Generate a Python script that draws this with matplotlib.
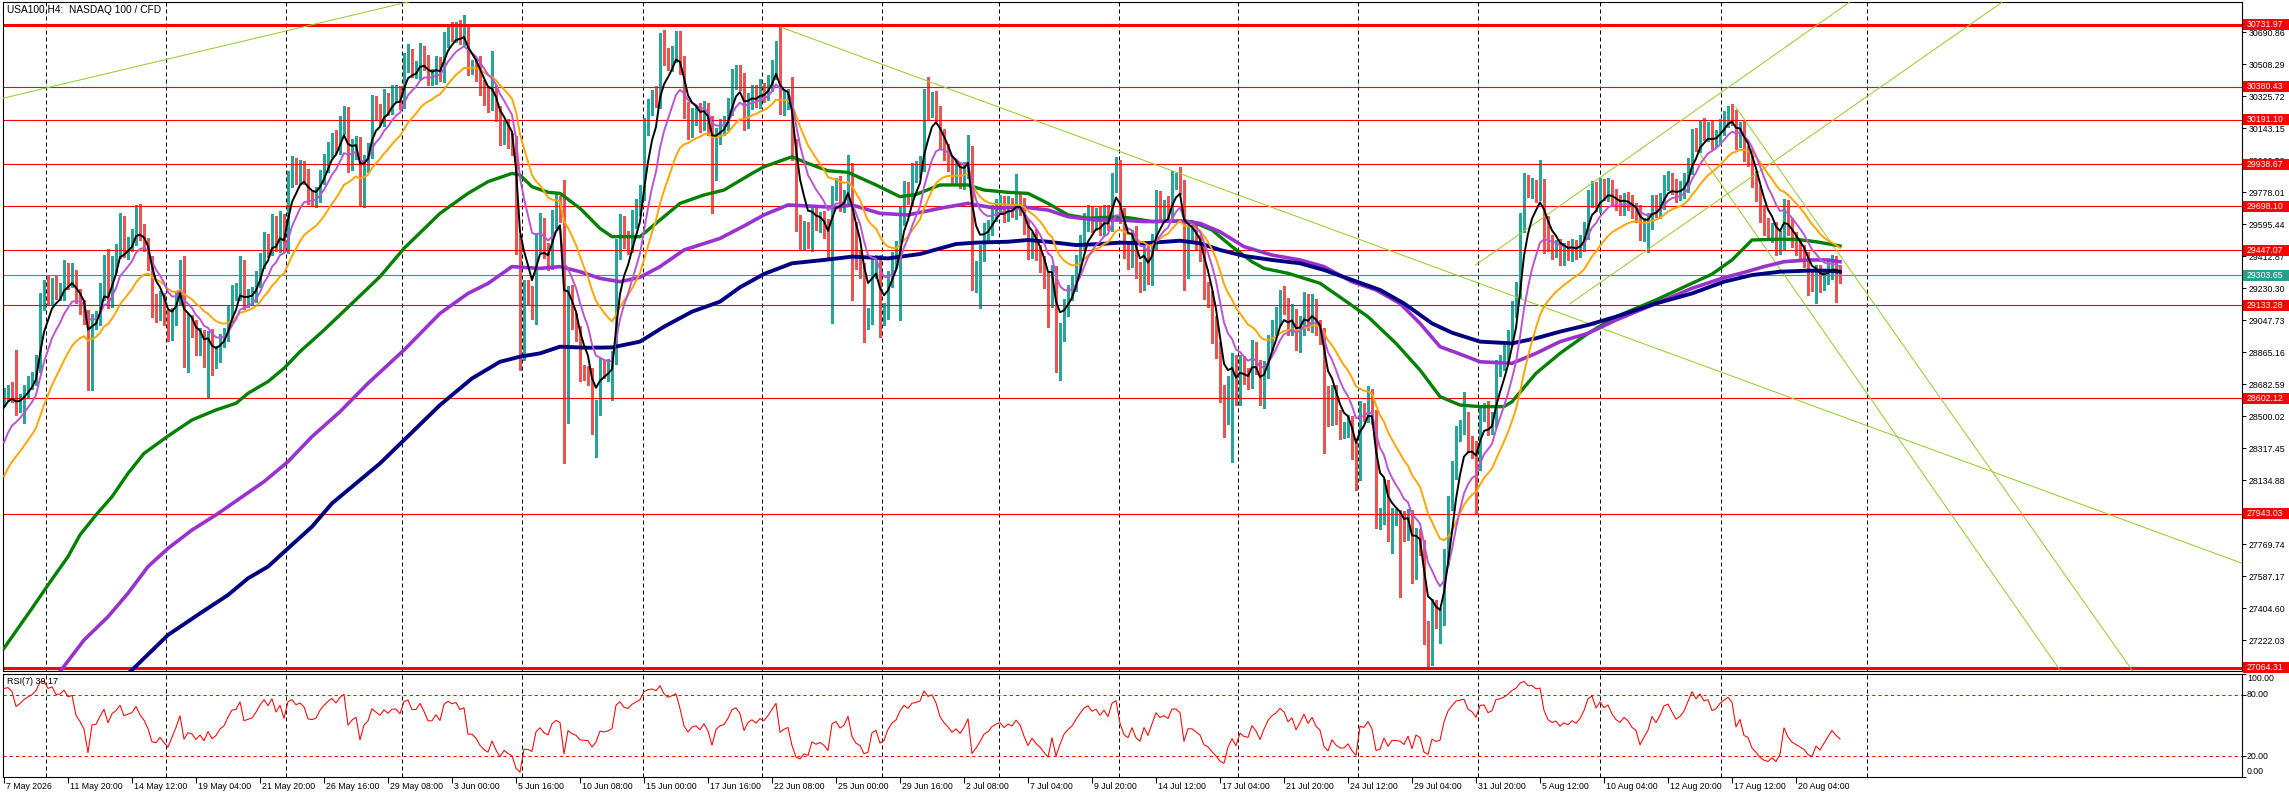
import numpy as np
import matplotlib
matplotlib.use('Agg')
import matplotlib.pyplot as plt
from matplotlib.patches import Rectangle
from matplotlib.transforms import blended_transform_factory

plt.rcParams['font.family'] = ['Liberation Sans', 'DejaVu Sans']

# ---- data (H4 bars, index 0 = 7 May 2026) ----
first_open = 28600
closes = [
    28620, 28649, 28630, 28554, 28592, 28650, 28687, 28725, 28801, 29144,
    29229, 29182, 29248, 29201, 29210, 29315, 29277, 29305, 29182, 29134,
    29068, 28668, 29049, 29060, 29210, 29372, 29163, 29372, 29448, 29600,
    29448, 29486, 29515, 29648, 29553, 29486, 29372, 29125, 29106, 29163,
    29068, 28973, 29068, 29182, 29353, 28935, 29039, 29011, 28896, 28953,
    28839, 28953, 28820, 28858, 28935, 28973, 29087, 29201, 29210, 29353,
    29163, 29182, 29201, 29277, 29391, 29505, 29458, 29600, 29486, 29610,
    29477, 29857, 29924, 29867, 29914, 29876, 29752, 29743, 29762, 29867,
    29943, 30019, 30076, 30047, 30152, 30218, 29952, 30019, 30057, 29733,
    29943, 30019, 30285, 30237, 30199, 30304, 30266, 30342, 30342, 30304,
    30513, 30551, 30475, 30475, 30570, 30513, 30437, 30437, 30494, 30456,
    30646, 30700, 30684, 30703, 30665, 30684, 30494, 30494, 30456, 30380,
    30323, 30285, 30342, 30228, 30095, 30133, 30076, 30038, 29486, 28839,
    29219, 29200, 29105, 29486, 29581, 29448, 29391, 29618, 29695, 29657,
    28478, 29200, 29048, 28972, 28763, 28744, 28725, 28458, 28554, 28782,
    28763, 28782, 28820, 29448, 29600, 29505, 29486, 29619, 29695, 29771,
    30152, 30266, 30323, 30304, 30646, 30551, 30513, 30570, 30646, 30494,
    30247, 30133, 30209, 30228, 30171, 30247, 30152, 29885, 30095, 30152,
    30171, 30266, 30418, 30456, 30399, 30190, 30304, 30342, 30304, 30361,
    30342, 30399, 30475, 30570, 30266, 30304, 30323, 30019, 29600, 29505,
    29562, 29505, 29657, 29600, 29619, 29562, 29448, 29771, 29810, 29714,
    29752, 29885, 29562, 29391, 29334, 29048, 29067, 29334, 29372, 29067,
    29105, 29276, 29391, 29448, 29638, 29790, 29752, 29885, 29904, 29942,
    30304, 30247, 30304, 30228, 30076, 30000, 29942, 29867, 29905, 29848,
    29905, 30000, 29258, 29334, 29429, 29543, 29581, 29657, 29695, 29714,
    29657, 29695, 29676, 29733, 29695, 29581, 29448, 29505, 29429, 29372,
    29277, 29162, 29315, 28820, 28972, 29124, 29200, 29258, 29372, 29486,
    29600, 29657, 29600, 29638, 29581, 29657, 29600, 29829, 29890, 29640,
    29448, 29390, 29524, 29334, 29258, 29448, 29296, 29486, 29733, 29657,
    29695, 29657, 29847, 29847, 29810, 29334, 29543, 29543, 29486, 29429,
    29220, 29162, 29029, 28877, 28630, 28496, 28686, 28801, 28611, 28801,
    28725, 28706, 28877, 28782, 28611, 28763, 28915, 29010, 29067, 29162,
    29124, 29010, 29067, 28915, 29010, 29144, 29030, 29124, 29010, 28953,
    28630, 28496, 28630, 28496, 28420, 28420, 28458, 28306, 28173, 28535,
    28516, 28611, 28496, 27907, 27926, 28098, 27831, 27926, 27926, 27907,
    27831, 27926, 27622, 27812, 27755, 27279, 27165, 27412, 27336, 27355,
    27697, 28002, 28192, 28401, 28439, 28477, 28344, 28306, 28230, 28515,
    28535, 28440, 28480, 28780, 28801, 28858, 28953, 29105, 29220, 29600,
    29838, 29790, 29800, 29771, 29810, 29600, 29486, 29448, 29467, 29410,
    29448, 29429, 29467, 29448, 29486, 29562, 29733, 29790, 29714, 29810,
    29771, 29810, 29752, 29714, 29695, 29733, 29714, 29676, 29657, 29543,
    29581, 29619, 29714, 29676, 29733, 29829, 29848, 29810, 29771, 29790,
    29829, 29924, 30095, 30057, 30152, 30114, 30133, 30076, 30095, 30152,
    30190, 30228, 30209, 30076, 30133, 30000, 29980, 29848, 29771, 29657,
    29581, 29543, 29562, 29467, 29505, 29695, 29581, 29505, 29467, 29429,
    29390, 29296, 29258, 29315, 29258, 29296, 29334, 29372, 29334, 29304,
]
wick_up = [
    40, 30, 45, 250, 35, 30, 40, 25, 50, 60, 45, 70, 40, 60, 50, 76, 60, 70, 30, 45,
    30, 40, 35, 40, 50, 45, 80, 40, 35, 60, 40, 35, 50, 57, 60, 45, 30, 40, 70, 50,
    40, 35, 50, 30, 40, 60, 45, 40, 35, 50, 40, 30, 45, 40, 35, 30, 40, 45, 50, 60,
    40, 45, 35, 50, 40, 45, 35, 55, 40, 60, 45, 40, 60, 50, 45, 40, 35, 40, 45, 40,
    50, 45, 40, 55, 60, 50, 45, 60, 40, 35, 45, 40, 50, 40, 45, 60, 40, 50, 45, 40,
    60, 70, 45, 50, 60, 40, 50, 45, 60, 55, 45, 40, 50, 45, 60, 105, 50, 40, 45, 100,
    40, 50, 240, 45, 40, 50, 60, 40, 60, 50, 60, 55, 40, 60, 80, 50, 40, 60, 70, 60,
    190, 45, 50, 40, 45, 30, 40, 50, 40, 50, 40, 45, 50, 60, 55, 40, 50, 60, 45, 50,
    50, 45, 40, 60, 40, 60, 50, 40, 50, 50, 60, 45, 50, 40, 60, 50, 40, 60, 50, 45,
    40, 50, 60, 50, 45, 60, 40, 50, 45, 60, 40, 50, 60, 70, 150, 50, 45, 110, 60, 50,
    50, 45, 40, 50, 45, 50, 60, 40, 50, 60, 40, 105, 60, 45, 50, 40, 50, 60, 45, 50,
    40, 50, 45, 50, 60, 50, 45, 60, 50, 40, 60, 130, 45, 50, 40, 60, 50, 45, 50, 40,
    45, 105, 40, 50, 45, 60, 40, 50, 45, 50, 40, 60, 50, 150, 45, 50, 40, 45, 60, 50,
    40, 50, 45, 40, 60, 45, 50, 40, 50, 45, 60, 50, 40, 50, 60, 45, 50, 60, 90, 70,
    45, 50, 40, 60, 45, 50, 40, 55, 60, 50, 40, 60, 50, 40, 75, 40, 50, 45, 60, 50,
    40, 45, 50, 40, 45, 50, 40, 60, 50, 45, 40, 50, 60, 45, 40, 50, 45, 40, 55, 60,
    80, 50, 70, 45, 60, 66, 50, 70, 45, 40, 50, 40, 45, 50, 40, 45, 50, 40, 45, 50,
    40, 60, 45, 40, 50, 45, 40, 50, 45, 40, 50, 45, 40, 50, 45, 40, 50, 45, 40, 50,
    45, 40, 50, 45, 40, 160, 45, 40, 50, 45, 40, 50, 45, 40, 50, 45, 40, 50, 45, 60,
    50, 40, 60, 50, 150, 45, 40, 50, 40, 45, 40, 50, 45, 40, 50, 45, 60, 50, 45, 50,
    45, 50, 40, 45, 50, 40, 45, 50, 40, 45, 50, 40, 45, 50, 40, 45, 50, 40, 45, 50,
    60, 50, 45, 50, 40, 50, 45, 50, 40, 45, 50, 40, 55, 40, 45, 50, 40, 45, 50, 40,
    45, 50, 40, 45, 50, 45, 40, 50, 45, 40, 50, 45, 40, 50, 45, 40, 60, 45, 40, 30,
]
wick_dn = [
    40, 35, 50, 45, 30, 134, 40, 35, 45, 50, 40, 45, 50, 35, 40, 45, 50, 40, 35, 50,
    45, 20, 20, 50, 40, 50, 45, 40, 50, 45, 40, 50, 45, 40, 50, 45, 40, 60, 70, 55,
    50, 45, 40, 50, 45, 153, 181, 60, 50, 45, 60, 238, 85, 47, 50, 40, 45, 50, 40, 45,
    50, 40, 45, 50, 40, 45, 50, 40, 45, 50, 40, 45, 50, 40, 45, 50, 40, 45, 50, 40,
    45, 50, 40, 45, 50, 40, 60, 45, 50, 30, 40, 50, 45, 50, 40, 45, 50, 40, 45, 50,
    45, 50, 40, 45, 50, 40, 45, 50, 40, 45, 50, 40, 45, 50, 40, 45, 50, 40, 45, 50,
    45, 50, 40, 45, 50, 40, 45, 50, 60, 76, 20, 60, 50, 80, 50, 45, 60, 50, 45, 50,
    248, 20, 50, 45, 60, 40, 50, 60, 190, 50, 45, 60, 190, 20, 50, 45, 60, 50, 45, 50,
    40, 45, 50, 40, 45, 50, 40, 45, 50, 40, 45, 50, 40, 45, 50, 40, 45, 228, 40, 45,
    50, 40, 45, 50, 40, 60, 45, 50, 40, 45, 50, 40, 45, 50, 40, 45, 50, 60, 45, 50,
    50, 45, 60, 40, 50, 45, 60, 419, 40, 45, 50, 40, 400, 50, 45, 123, 50, 40, 45, 114,
    45, 50, 40, 45, 400, 50, 40, 45, 50, 40, 45, 50, 40, 45, 50, 40, 45, 50, 40, 45,
    50, 45, 38, 50, 219, 45, 40, 50, 45, 40, 50, 45, 40, 50, 45, 40, 50, 45, 40, 50,
    45, 152, 40, 67, 114, 45, 50, 40, 45, 50, 40, 45, 50, 40, 45, 50, 40, 45, 50, 40,
    45, 50, 40, 45, 50, 40, 45, 50, 40, 45, 50, 40, 45, 50, 40, 114, 45, 50, 40, 45,
    50, 40, 114, 45, 50, 114, 40, 446, 50, 45, 40, 50, 45, 40, 50, 67, 45, 40, 50, 45,
    40, 50, 45, 40, 50, 45, 40, 50, 45, 40, 342, 50, 45, 40, 50, 45, 40, 50, 95, 40,
    45, 50, 40, 45, 50, 40, 45, 114, 50, 437, 45, 40, 76, 50, 45, 80, 95, 86, 45, 133,
    50, 45, 40, 50, 45, 40, 50, 45, 285, 40, 45, 50, 40, 45, 50, 40, 45, 50, 40, 45,
    50, 40, 45, 50, 40, 171, 45, 50, 40, 45, 50, 40, 45, 50, 40, 45, 50, 40, 45, 50,
    40, 45, 50, 40, 45, 50, 40, 45, 50, 40, 45, 143, 50, 40, 45, 50, 40, 45, 50, 40,
    45, 50, 40, 45, 50, 40, 45, 50, 40, 45, 50, 40, 45, 50, 40, 45, 50, 40, 45, 50,
    45, 40, 50, 45, 40, 50, 45, 40, 50, 45, 40, 105, 45, 115, 50, 40, 45, 50, 181, 45,
]

# starting values of the short moving averages at the left edge
ma_seed = {'black': 28515, 'violet': 28290, 'orange': 28110}

# long moving averages, read at sample bars
green_bars = [0, 7, 11, 16, 19, 23, 27, 31, 35, 41, 47, 53, 58, 61, 66, 70, 74, 80, 87,
              94, 100, 109, 116, 121, 127, 129, 132, 136, 139, 144, 149, 152, 159, 163,
              169, 175, 180, 187, 190, 197, 201, 206, 211, 218, 224, 228, 234, 241, 245,
              251, 256, 261, 266, 271, 279, 282, 287, 294, 297, 302, 307, 312, 315, 321,
              329, 335, 341, 348, 354, 359, 364, 369, 375, 377, 383, 389, 396, 403, 413,
              422, 427, 432, 437, 443, 448, 453, 459]
green_vals = [27175, 27403, 27536, 27698, 27822, 27936, 28040, 28173, 28287, 28386, 28478,
              28535, 28573, 28630, 28697, 28773, 28868, 28991, 29143, 29296, 29457, 29657,
              29771, 29838, 29885, 29876, 29809, 29777, 29771, 29686, 29571, 29524, 29524,
              29600, 29714, 29762, 29790, 29885, 29923, 29980, 29942, 29900, 29891, 29819,
              29752, 29765, 29819, 29819, 29790, 29777, 29771, 29714, 29648, 29629, 29638,
              29629, 29610, 29613, 29610, 29562, 29467, 29381, 29343, 29315, 29258, 29163,
              29067, 28915, 28763, 28611, 28563, 28554, 28554, 28582, 28744, 28858, 28972,
              29067, 29163, 29258, 29310, 29391, 29505, 29509, 29509, 29495, 29471]
purple_bars = [10, 14, 20, 26, 31, 36, 41, 47, 53, 59, 65, 71, 77, 84, 91, 100, 109, 116,
               121, 127, 134, 139, 144, 149, 154, 159, 164, 170, 179, 185, 190, 196, 201,
               208, 212, 219, 226, 234, 241, 248, 254, 261, 266, 273, 279, 285, 294, 299,
               304, 310, 317, 324, 330, 337, 343, 349, 354, 359, 364, 369, 377, 383, 389,
               396, 403, 413, 422, 430, 435, 440, 445, 451, 456, 459]
purple_vals = [26925, 27042, 27222, 27355, 27489, 27641, 27745, 27850, 27936, 28031, 28126,
               28240, 28383, 28525, 28687, 28877, 29086, 29200, 29257, 29353, 29343, 29353,
               29324, 29286, 29267, 29292, 29353, 29448, 29514, 29585, 29648, 29705, 29699,
               29691, 29705, 29657, 29648, 29686, 29714, 29686, 29695, 29676, 29638, 29619,
               29619, 29610, 29613, 29600, 29552, 29467, 29419, 29391, 29353, 29267, 29220,
               29143, 29029, 28896, 28854, 28810, 28801, 28858, 28925, 28972, 29048, 29143,
               29229, 29290, 29320, 29353, 29381, 29391, 29391, 29381]
navy_bars = [29, 32, 41, 49, 56, 61, 66, 71, 77, 82, 89, 94, 100, 109, 117, 124, 129, 134,
             139, 146, 152, 159, 165, 172, 179, 184, 190, 197, 205, 212, 221, 229, 238, 243,
             251, 256, 261, 268, 274, 279, 285, 294, 299, 304, 310, 317, 324, 330, 337, 344,
             350, 357, 362, 369, 377, 383, 389, 396, 403, 413, 422, 430, 437, 444, 451,
             456, 459]
navy_vals = [26990, 27051, 27251, 27374, 27479, 27574, 27641, 27745, 27869, 28002, 28135,
             28230, 28363, 28563, 28715, 28810, 28839, 28858, 28896, 28890, 28892, 28925,
             29010, 29096, 29153, 29235, 29311, 29372, 29391, 29410, 29400, 29425, 29482,
             29490, 29495, 29505, 29495, 29476, 29482, 29490, 29486, 29501, 29486, 29448,
             29414, 29391, 29372, 29334, 29277, 29220, 29143, 29029, 28976, 28925, 28915,
             28944, 28982, 29020, 29067, 29143, 29200, 29267, 29305, 29324, 29330, 29330,
             29324]

levels = [30731.97, 30380.43, 30191.10, 29938.67, 29698.10, 29447.07,
          29133.28, 28602.12, 27943.03, 27064.31]
thick_levels = [30731.97, 27064.31]
bid = 29303.65
price_ticks = [30690.86, 30508.29, 30325.72, 30143.15, 29960.58, 29778.01, 29595.44,
               29412.87, 29230.30, 29047.73, 28865.16, 28682.59, 28500.02, 28317.45,
               28134.88, 27952.31, 27769.74, 27587.17, 27404.60, 27222.03]

# trend lines as (bar, price) anchors
trend_lines = [
    ((-1, 30310), (110, 30912)),
    ((194.15, 30720), (560, 27656)),
    ((367.9, 29362), (467.9, 30967)),
    ((391.4, 29140), (499.4, 30860)),
    ((423.65, 30007), (514.15, 27045)),
    ((432.9, 30264), (532.15, 27045)),
]

date_labels = ['7 May 2026', '11 May 20:00', '14 May 12:00', '19 May 04:00', '21 May 20:00',
               '26 May 16:00', '29 May 08:00', '3 Jun 00:00', '5 Jun 16:00', '10 Jun 08:00',
               '15 Jun 00:00', '17 Jun 16:00', '22 Jun 08:00', '25 Jun 00:00', '29 Jun 16:00',
               '2 Jul 08:00', '7 Jul 04:00', '9 Jul 20:00', '14 Jul 12:00', '17 Jul 04:00',
               '21 Jul 20:00', '24 Jul 12:00', '29 Jul 04:00', '31 Jul 20:00', '5 Aug 12:00',
               '10 Aug 04:00', '12 Aug 20:00', '17 Aug 12:00', '20 Aug 04:00']
bars_per_label = 16
grid_bars = [10.5, 40.5, 70.5, 99.5, 129.5, 159.7, 189.5, 219.5, 248.7, 278.7,
             308.5, 338.5, 368.5, 399, 429.2, 465.7]

BULL, BEAR = '#26a69a', '#ef5350'
TEAL = '#2a9d8f'
TREND = '#9acd32'


def ema(vals, span, seed):
    a = 2.0 / (span + 1)
    out, prev = [], seed
    for v in vals:
        prev += a * (v - prev)
        out.append(prev)
    return np.array(out)


def rsi(vals, start, n=7, g0=70.0, l0=12.0):
    out, g, l, prev = [], g0, l0, start
    for v in vals:
        d = v - prev
        g = (g * (n - 1) + max(d, 0)) / n
        l = (l * (n - 1) + max(-d, 0)) / n
        out.append(100 - 100 / (1 + g / l) if l > 0 else 100)
        prev = v
    return np.array(out)


closes = np.array(closes, dtype=float)
idx = np.arange(len(closes))
opens = np.r_[first_open, closes[:-1]]
highs = np.maximum(opens, closes) + np.array(wick_up)
lows = np.minimum(opens, closes) - np.array(wick_dn)

# ---- layout (pixel based, 2289 x 798) ----
W, H = 2289, 798
fig = plt.figure(figsize=(W / 100, H / 100), dpi=100)
x0, x1 = 2.5, 2242
ax = fig.add_axes([x0 / W, (H - 671) / H, (x1 - x0) / W, 669 / H])
rax = fig.add_axes([x0 / W, (H - 777) / H, (x1 - x0) / W, 103 / H])
xlim = (-0.375, -0.375 + (x1 - x0) / 4)
ylim = (27045.25, 30863.2)
px = (ylim[1] - ylim[0]) / 669

for a in (ax, rax):
    a.set_xlim(*xlim)
    for s in a.spines.values():
        s.set_linewidth(0.8)
    for b in grid_bars:
        a.axvline(b, color='black', lw=0.72, ls=(0, (4, 3)), zorder=0.5)
ax.set_ylim(*ylim)
rax.set_ylim(0, 100)

# candles
col = np.where(closes >= opens, BULL, BEAR)
ax.vlines(idx, lows, highs, colors=col, lw=0.75, antialiased=False, zorder=2)
ax.bar(idx, np.maximum(np.abs(closes - opens), px), bottom=np.minimum(opens, closes),
       width=0.72, color=col, lw=0, antialiased=False, zorder=2.1)

# horizontal levels
for lv in levels:
    ax.axhline(lv, color='#ff0000', lw=2.2 if lv in thick_levels else 0.8, zorder=2.5)
ax.axhline(bid, color=TEAL, lw=0.8, zorder=2.5)

# trend lines
for (b0, p0), (b1, p1) in trend_lines:
    ax.plot([b0, b1], [p0, p1], color=TREND, lw=0.75, zorder=2.6)

# moving averages
ax.plot(green_bars, green_vals, color='#008000', lw=2.4, zorder=3)
ax.plot(purple_bars, purple_vals, color='#9932cc', lw=2.6, zorder=3)
ax.plot(navy_bars, navy_vals, color='#000080', lw=2.8, zorder=3)
ax.plot(idx, ema(closes, 21, ma_seed['orange']), color='#ffa500', lw=1.4, zorder=3.2)
ax.plot(idx, ema(closes, 10, ma_seed['violet']), color='#ba55d3', lw=1.4, zorder=3.3)
ax.plot(idx, ema(closes, 5, ma_seed['black']), color='black', lw=1.4, zorder=3.4)

# price axis
ax.set_xticks([])
ax.yaxis.tick_right()
ax.set_yticks(price_ticks)
ax.set_yticklabels([f'{t:.2f}' for t in price_ticks])
ax.tick_params(axis='y', length=3, width=0.7, pad=2, labelsize=6.3)

tr = blended_transform_factory(ax.transAxes, ax.transData)
box_w = (W - x1 - 1) / (x1 - x0)
for lv, fc in [(l, '#ff0000') for l in levels] + [(bid, TEAL)]:
    ax.add_patch(Rectangle((1.0006, lv - 5.5 * px), box_w, 11 * px, transform=tr,
                           facecolor=fc, edgecolor='none', clip_on=False, zorder=5))
    ax.text(1.0022, lv, f'{lv:.2f}', transform=tr, color='white', fontsize=6.3,
            va='center', ha='left', clip_on=False, zorder=6)

ax.text(0.002, 0.995, 'USA100,H4:  NASDAQ 100 / CFD', transform=ax.transAxes,
        fontsize=7.3, va='top', ha='left')

# RSI panel
rax.plot(idx, rsi(closes, first_open), color='#ff0000', lw=0.75, zorder=3)
for lv in (80, 20):
    rax.axhline(lv, color='#ff0000', lw=0.75, ls=(0, (3, 3)), zorder=2)
rax.yaxis.tick_right()
rax.set_yticks([0, 20, 80, 100])
rax.set_yticklabels([])
rax.tick_params(axis='y', length=3, width=0.7)
trr = blended_transform_factory(rax.transAxes, rax.transData)
for v, txt in [(95.5, '100.00'), (80, '80.00'), (20, '20.00'), (5, '0.00')]:
    rax.text(1.0022, v, txt, transform=trr, fontsize=6.3, va='center', ha='left',
             clip_on=False)
rax.text(0.002, 0.97, 'RSI(7) 39.17', transform=rax.transAxes, fontsize=6.5,
         va='top', ha='left')

lab_pos = [k * bars_per_label for k in range(len(date_labels))]
rax.set_xticks(lab_pos)
rax.set_xticklabels([])
rax.tick_params(axis='x', length=4, width=0.7, direction='out')
trx = blended_transform_factory(rax.transData, rax.transAxes)
for p, lbl in zip(lab_pos, date_labels):
    rax.text(p + 0.4, -0.095, lbl, transform=trx, fontsize=6.3, va='center', ha='left',
             clip_on=False)

fig.savefig('out.png', dpi=100)
